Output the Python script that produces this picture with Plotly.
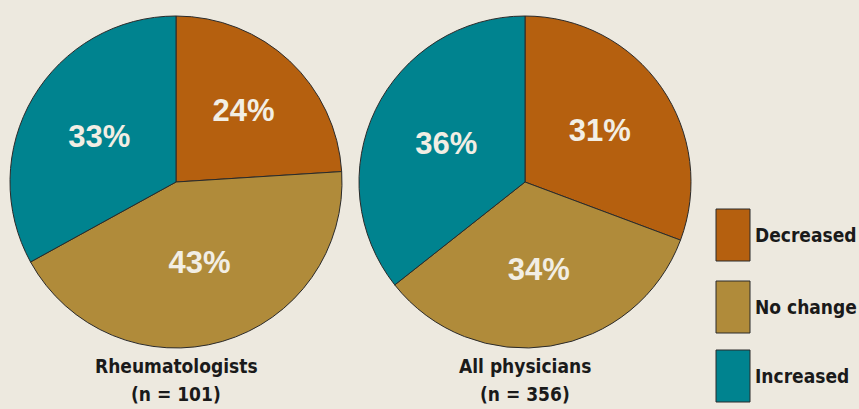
import plotly.graph_objects as go

categories = ["Decreased", "No change", "Increased"]
rheum_values = [24, 43, 33]
all_values = [31, 34, 36]
group_names = ["Rheumatologists", "All physicians"]
group_ns = ["(n = 101)", "(n = 356)"]
colors = ["#B5600F", "#B08B3A", "#00838F"]

W, H = 859, 409
BG = "#EDE9DF"
label_font = "DejaVu Sans Condensed, Liberation Sans Narrow, sans-serif"

fig = go.Figure()
domains = [(10, 342), (359, 691)]
top, bottom = 16, 348
for vals, (x0, x1) in zip([rheum_values, all_values], domains):
    fig.add_trace(go.Pie(
        labels=categories, values=vals, sort=False, direction="clockwise",
        rotation=0,
        marker=dict(colors=colors, line=dict(color="#2a2a2a", width=1)),
        texttemplate="%{value}%", textposition="inside",
        insidetextorientation="horizontal",
        textfont=dict(family="Liberation Sans, Arial, sans-serif", size=31,
                      color="#F2EEE4", weight="bold"),
        hoverinfo="label+value", showlegend=False,
        domain=dict(x=[x0 / W, x1 / W], y=[1 - bottom / H, 1 - top / H]),
    ))

annotations = []
for name, n, (x0, x1) in zip(group_names, group_ns, domains):
    for txt, yc in ((name, 366), (n, 394)):
        annotations.append(dict(
            x=(x0 + x1) / 2 / W, y=1 - yc / H, xref="paper", yref="paper",
            text=txt, showarrow=False, xanchor="center", yanchor="middle",
            font=dict(family=label_font, size=19, color="#1a1a1a", weight="bold"),
        ))

shapes = []
box_tops = [209, 281, 350]
for cat, col, bt in zip(categories, colors, box_tops):
    shapes.append(dict(type="rect", xref="paper", yref="paper",
                       x0=716 / W, x1=750 / W, y0=1 - (bt + 52) / H, y1=1 - bt / H,
                       fillcolor=col, line=dict(color="#2a2a2a", width=1)))
    annotations.append(dict(
        x=753 / W, y=1 - (bt + 26) / H, xref="paper", yref="paper",
        text=cat, showarrow=False, xanchor="left", yanchor="middle",
        font=dict(family=label_font, size=19, color="#1a1a1a", weight="bold"),
    ))

fig.update_layout(
    width=W, height=H, margin=dict(l=0, r=0, t=0, b=0),
    paper_bgcolor=BG, plot_bgcolor=BG,
    annotations=annotations, shapes=shapes,
)
fig.write_html("out.html")
